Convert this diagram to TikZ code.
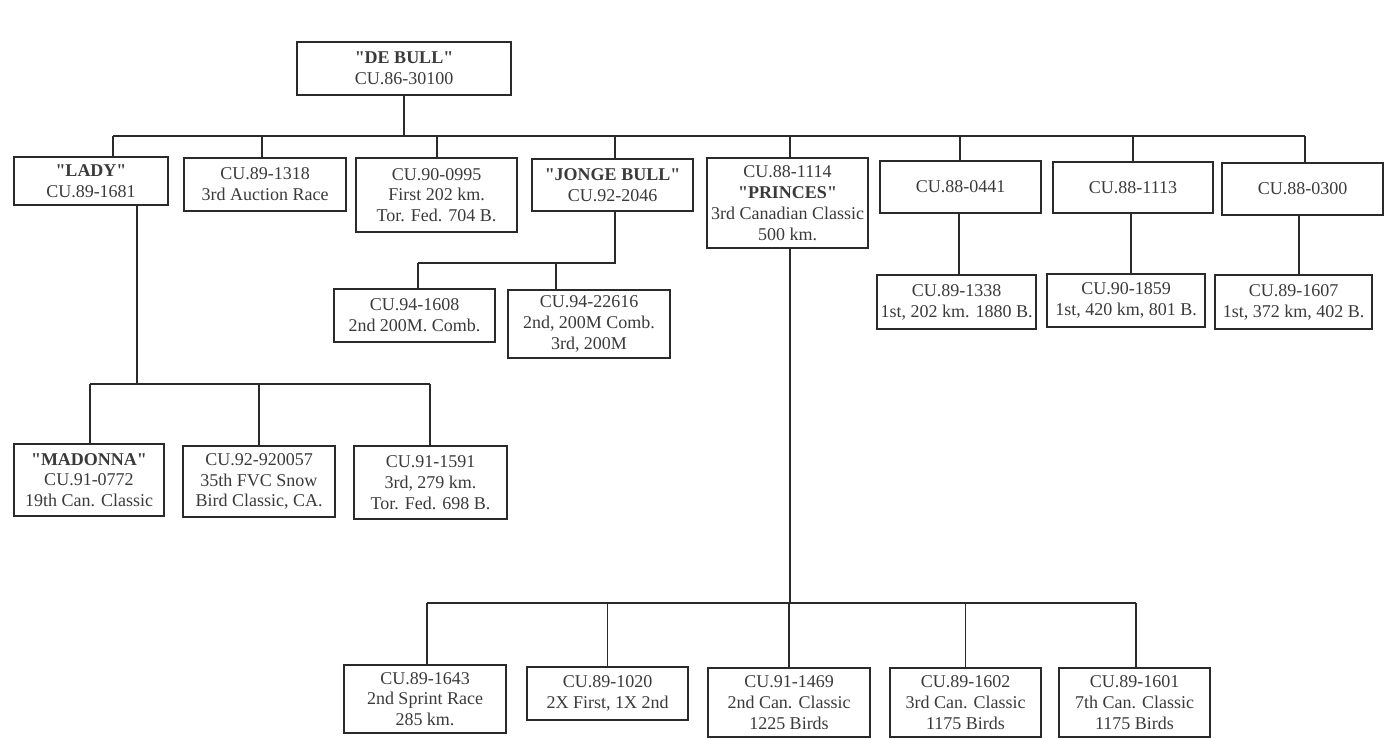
\documentclass[tikz,border=0pt]{standalone}
\usepackage{fontspec}
\setmainfont{Liberation Serif}[Ligatures=TeXOff]
\definecolor{ink}{HTML}{3A3A3A}
\definecolor{edge}{HTML}{2A2A2A}
\begin{document}
\begin{tikzpicture}[x=0.5pt,y=-0.5pt,
  box/.style={draw=edge, line width=0.9pt, inner sep=0pt, align=center, text=ink,
    font=\fontsize{9}{10.4}\selectfont},
  sz/.style 2 args={minimum width=#1pt, minimum height=#2pt},
  wire/.style={draw=edge, line width=0.6pt},
  heavy/.style={draw=edge, line width=0.95pt}]
\useasboundingbox (0,0) rectangle (1395,738);
% boxes
\node[box, sz={107}{26.5}] (top) at (404,68.5) {\textbf{"DE BULL"}\\CU.86-30100};
\node[box, sz={77}{24}] (lady) at (91,181) {\textbf{"LADY"}\\CU.89-1681};
\node[box, sz={81}{26.5}] (c1318) at (265,184.5) {CU.89-1318\\3rd Auction Race};
\node[box, sz={80.5}{37}] (c0995) at (436.5,195) {CU.90-0995\\First 202 km.\\Tor. Fed. 704 B.};
\node[box, sz={80.5}{26}] (jonge) at (612.5,185) {\textbf{"JONGE BULL"}\\CU.92-2046};
\node[box, sz={80.5}{45}] (princes) at (787.5,203) {CU.88-1114\\\textbf{"PRINCES"}\\3rd Canadian Classic\\500 km.};
\node[box, sz={80.5}{26}] (c0441) at (960.5,187) {CU.88-0441};
\node[box, sz={80}{25.5}] (c1113) at (1133,187.5) {CU.88-1113};
\node[box, sz={80.5}{26}] (c0300) at (1302.5,189) {CU.88-0300};
\node[box, sz={80.5}{26.5}] (c1608) at (414.5,315.5) {CU.94-1608\\2nd 200M. Comb.};
\node[box, sz={81}{34}] (c22616) at (589,324) {CU.94-22616\\2nd, 200M Comb.\\3rd, 200M};
\node[box, sz={79.5}{27}] (c1338) at (956.5,302) {CU.89-1338\\1st, 202 km. 1880 B.};
\node[box, sz={79}{26.5}] (c1859) at (1126,300.5) {CU.90-1859\\1st, 420 km, 801 B.};
\node[box, sz={78.5}{27}] (c1607) at (1293.5,302) {CU.89-1607\\1st, 372 km, 402 B.};
\node[box, sz={75}{36}] (madonna) at (89,480) {\textbf{"MADONNA"}\\CU.91-0772\\19th Can. Classic};
\node[box, sz={76}{35.5}] (c920057) at (259,481.5) {CU.92-920057\\35th FVC Snow\\Bird Classic, CA.};
\node[box, sz={76.5}{36.5}] (c1591) at (430.5,482.5) {CU.91-1591\\3rd, 279 km.\\Tor. Fed. 698 B.};
\node[box, sz={81}{34}] (c1643) at (425,699) {CU.89-1643\\2nd Sprint Race\\285 km.};
\node[box, sz={80.5}{26.5}] (c1020) at (607.5,693.5) {CU.89-1020\\2X First, 1X 2nd};
\node[box, sz={81}{34.5}] (c1469) at (789,702.5) {CU.91-1469\\2nd Can. Classic\\1225 Birds};
\node[box, sz={75.5}{34.5}] (c1602) at (965.5,702.5) {CU.89-1602\\3rd Can. Classic\\1175 Birds};
\node[box, sz={75.5}{34.5}] (c1601) at (1134.5,702.5) {CU.89-1601\\7th Can. Classic\\1175 Birds};
% main bar
\coordinate (k1) at (113,136);
\coordinate (k2) at (262,136);
\coordinate (k3) at (437,136);
\coordinate (k4) at (615,136);
\coordinate (k5) at (790,136);
\coordinate (k6) at (960,136);
\coordinate (k7) at (1133,136);
\coordinate (k8) at (1305,136);
\draw[wire] (top.south) -- (top.south |- k1);
\draw[wire] (k1) -- (k8);
\draw[wire] (k1) -- (k1 |- lady.north);
\draw[wire] (k2) -- (k2 |- c1318.north);
\draw[wire] (k3) -- (k3 |- c0995.north);
\draw[wire] (k4) -- (k4 |- jonge.north);
\draw[wire] (k5) -- (k5 |- princes.north);
\draw[wire] (k6) -- (k6 |- c0441.north);
\draw[wire] (k7) -- (k7 |- c1113.north);
\draw[wire] (k8) -- (k8 |- c0300.north);
% right column children
\coordinate (r1) at (959,250);
\coordinate (r2) at (1131,250);
\coordinate (r3) at (1299,250);
\draw[wire] (r1 |- c0441.south) -- (r1 |- c1338.north);
\draw[wire] (r2 |- c1113.south) -- (r2 |- c1859.north);
\draw[wire] (r3 |- c0300.south) -- (r3 |- c1607.north);
% Jonge Bull subtree
\coordinate (jb) at (615,263);
\coordinate (jl) at (418,263);
\coordinate (jm) at (556,263);
\draw[heavy] (jb |- jonge.south) -- (jb) -- (jl);
\draw[heavy] (jl) -- (jl |- c1608.north);
\draw[wire] (jm) -- (jm |- c22616.north);
% Lady subtree
\coordinate (lb) at (137,384);
\coordinate (ll) at (90,384);
\coordinate (lr) at (430,384);
\draw[heavy] (lb |- lady.south) -- (lb);
\draw[heavy] (ll) -- (lr);
\draw[wire] (ll) -- (ll |- madonna.north);
\draw[wire] (c920057.north |- ll) -- (c920057.north);
\draw[wire] (lr) -- (lr |- c1591.north);
% Princes subtree
\coordinate (pb) at (790,603);
\coordinate (pl) at (427,603);
\coordinate (pr) at (1136,603);
\draw[wire] (pb |- princes.south) -- (pb);
\draw[heavy] (pl) -- (pr);
\draw[wire] (pl) -- (pl |- c1643.north);
\draw[wire] (c1020.north |- pl) -- (c1020.north);
\draw[wire] (c1469.north |- pl) -- (c1469.north);
\draw[wire] (c1602.north |- pl) -- (c1602.north);
\draw[wire] (pr) -- (pr |- c1601.north);
\end{tikzpicture}
\end{document}
